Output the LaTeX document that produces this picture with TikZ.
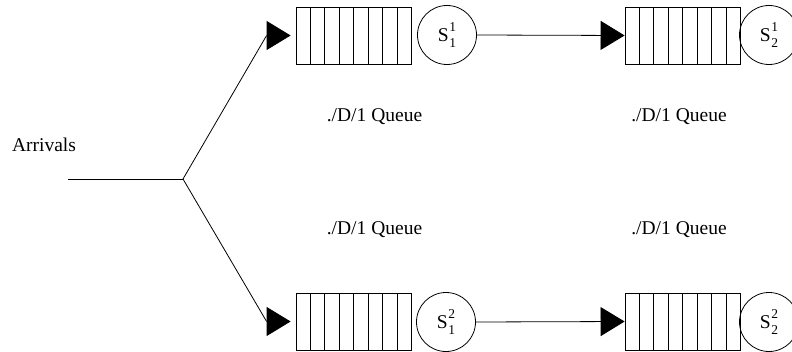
\documentclass[tikz,border=0pt]{standalone}
\usepackage{fontspec}
\setmainfont{Liberation Serif}
\usetikzlibrary{arrows.meta,calc}
\newcommand{\srv}[2]{S\kern0.5pt\makebox[0pt][l]{\raisebox{0.5em}{\fontsize{13.5}{13.5}\selectfont #1}}\raisebox{-0.3em}{\fontsize{13.5}{13.5}\selectfont #2}}
\newcommand{\qcells}[1]{\foreach \i in {1,...,7}{\draw[cellline] ($(#1.south west)!\i/8!(#1.south east)$) -- ($(#1.north west)!\i/8!(#1.north east)$);}}
\begin{document}
\begin{tikzpicture}[x=1pt,y=1pt,
  every node/.style={font=\fontsize{19.5}{21}\selectfont},
  queuebox/.style={draw, line width=0.8pt, minimum width=115pt, minimum height=57pt, inner sep=0pt},
  cellline/.style={line width=0.7pt},
  server/.style={draw, circle, line width=0.8pt, minimum size=59pt, inner sep=0pt},
  conn/.style={line width=0.8pt},
  arr/.style={line width=0.8pt, -{Triangle[length=24pt,width=29pt]}},
  lbl/.style={inner sep=0pt}]
\useasboundingbox (0,0) rectangle (792,351);
% queues
\node[queuebox] (q11) at (353.5,315.5) {};
\node[queuebox] (q12) at (682.5,315.5) {};
\node[queuebox] (q21) at (353.5,29.5) {};
\node[queuebox] (q22) at (682.5,29.5) {};
\qcells{q11}\qcells{q12}\qcells{q21}\qcells{q22}
% servers
\node[server] (s11) at (447,316) {\srv{1}{1}};
\node[server] (s12) at (769,316) {\srv{1}{2}};
\node[server] (s21) at (446,29) {\srv{2}{1}};
\node[server] (s22) at (769,29) {\srv{2}{2}};
% labels
\node[lbl] (l11) at (374.5,234) {./D/1 Queue};
\node[lbl] (l12) at (679,234) {./D/1 Queue};
\node[lbl] (l21) at (374.5,121) {./D/1 Queue};
\node[lbl] (l22) at (679,121) {./D/1 Queue};
\node[lbl] (arrivals) at (44,206) {Arrivals};
% arrivals split
\coordinate (in) at (68,172);
\coordinate (br) at (183,172);
\coordinate (a1) at ($(q11.west)+(-29,0)$);
\coordinate (t1) at ($(q11.west)+(-5,0)$);
\coordinate (a2) at ($(q21.west)+(-29,0)$);
\coordinate (t2) at ($(q21.west)+(-5,0)$);
\draw[conn] (in) -- (br);
\draw[conn] (br) -- (a1);
\draw[conn] (br) -- (a2);
\draw[arr] (a1) -- (t1);
\draw[arr] (a2) -- (t2);
% servers to second queues
\draw[arr] (s11.east) -- (q12.west);
\draw[arr] (s21.east) -- (q22.west);
\end{tikzpicture}
\end{document}
